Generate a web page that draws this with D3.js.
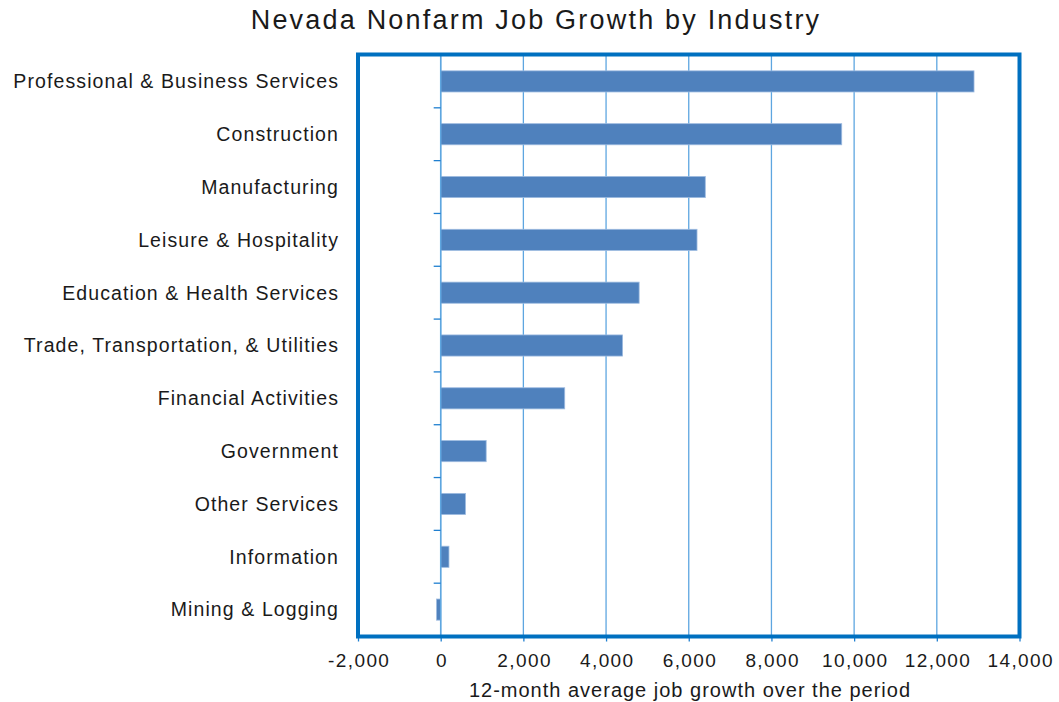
<!DOCTYPE html>
<html>
<head>
<meta charset="utf-8">
<script src="https://cdn.jsdelivr.net/npm/d3@7"></script>
<style>
body{margin:0;background:#fff;}
svg text{font-family:"Liberation Sans",Arial,sans-serif;fill:#1a1a1a;}
</style>
</head>
<body>
<svg width="1059" height="702"></svg>
<script>
// donnees
var industries = ["Professional & Business Services","Construction","Manufacturing","Leisure & Hospitality",
  "Education & Health Services","Trade, Transportation, & Utilities","Financial Activities","Government",
  "Other Services","Information","Mining & Logging"];
var growth = [12900, 9700, 6400, 6200, 4800, 4400, 3000, 1100, 600, 200, -100];
var xTicks = [-2000, 0, 2000, 4000, 6000, 8000, 10000, 12000, 14000];

var svg = d3.select("svg");

var x = d3.scaleLinear().domain([-2000, 14000]).range([358, 1019.5]);
var y = d3.scaleBand().domain(industries).range([55, 636]).paddingInner(0.6).paddingOuter(0.3);

//titre
svg.append("text")
   .attr("x", 536).attr("y", 29)
   .attr("text-anchor", "middle")
   .style("font-size", "27px")
   .style("letter-spacing", "2.2px")
   .text("Nevada Nonfarm Job Growth by Industry");

//grille verticale
svg.selectAll("line.grid")
   .data(xTicks.filter(function(d){return d > -2000 && d < 14000;}))
   .enter().append("line")
   .attr("class", "grid")
   .attr("x1", function(d){return x(d);}).attr("x2", function(d){return x(d);})
   .attr("y1", 55).attr("y2", 636)
   .attr("stroke", "#5ea6e0")
   .attr("stroke-width", 1.3);

//barres
svg.selectAll("rect.bar")
   .data(growth)
   .enter().append("rect")
   .attr("class", "bar")
   .attr("x", function(d){return x(Math.min(0, d));})
   .attr("y", function(d, i){return y(industries[i]);})
   .attr("width", function(d){return Math.abs(x(d) - x(0));})
   .attr("height", y.bandwidth())
   .attr("fill", "#4f81bd")
   .attr("stroke", "#9dbbe0")
   .attr("stroke-width", 0.8);

//axe vertical (au zero) avec graduations entre categories
svg.append("line")
   .attr("x1", x(0)).attr("x2", x(0))
   .attr("y1", 55).attr("y2", 636)
   .attr("stroke", "#5ea6e0").attr("stroke-width", 1.5);
svg.selectAll("line.ytick")
   .data(d3.range(1, industries.length))
   .enter().append("line")
   .attr("class", "ytick")
   .attr("x1", x(0) - 7).attr("x2", x(0))
   .attr("y1", function(i){return 55 + i * 581 / industries.length;})
   .attr("y2", function(i){return 55 + i * 581 / industries.length;})
   .attr("stroke", "#1f7fd0").attr("stroke-width", 1.3);

//etiquettes des categories
svg.selectAll("text.cat")
   .data(industries)
   .enter().append("text")
   .attr("class", "cat")
   .attr("x", 339)
   .attr("y", function(d){return y(d) + y.bandwidth() / 2;})
   .attr("dy", "0.35em")
   .attr("text-anchor", "end")
   .style("font-size", "19.5px")
   .style("letter-spacing", "1.1px")
   .text(function(d){return d;});

//axe horizontal
var fmt = d3.format(",");
var xAxis = d3.axisBottom(x).tickValues(xTicks).tickSize(5).tickPadding(12)
              .tickFormat(function(d){return fmt(d).replace("\u2212", "-");});
var gx = svg.append("g").attr("transform", "translate(0,636.5)").call(xAxis);
gx.select(".domain").remove();
gx.selectAll(".tick line").attr("stroke", "#1f7fd0").attr("stroke-width", 1.3);
gx.selectAll(".tick text")
  .style("font-size", "19px")
  .style("letter-spacing", "1.4px")
  .style("font-family", "'Liberation Sans',Arial,sans-serif")
  .attr("dx", 0.7)
  .attr("fill", "#1a1a1a");

svg.append("text")
   .attr("x", 690).attr("y", 697)
   .attr("text-anchor", "middle")
   .style("font-size", "20px")
   .style("letter-spacing", "1px")
   .text("12-month average job growth over the period");

//cadre
svg.append("rect")
   .attr("x", 358).attr("y", 54.5)
   .attr("width", 1019.5 - 358).attr("height", 636.5 - 54.5)
   .attr("fill", "none")
   .attr("stroke", "#0070c0")
   .attr("stroke-width", 4);
</script>
</body>
</html>
